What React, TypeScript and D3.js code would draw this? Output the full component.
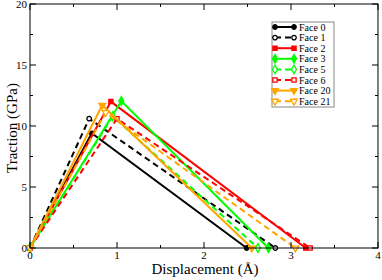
import * as d3 from "d3";

// traction-separation curves, one per face
const faceNames = ["Face 0", "Face 1", "Face 2", "Face 3", "Face 5", "Face 6", "Face 20", "Face 21"];
const peakDisp = [0.71, 0.68, 0.93, 1.05, 0.95, 1.0, 0.83, 0.87];
const peakTraction = [9.4, 10.6, 12.0, 12.05, 10.8, 10.6, 11.7, 11.1];
const finalDisp = [2.49, 2.82, 3.17, 2.74, 2.62, 3.22, 2.55, 3.05];

const faceColors = ["#000000", "#000000", "#ff0000", "#00ff00", "#00ff00", "#ff0000", "#ffa500", "#ffa500"];
const faceDashed = [false, true, false, false, true, true, false, true];
const faceSymbols = ["circle", "circle", "square", "diamond", "diamond", "square", "triangle", "triangle"];
const faceFilled = [true, false, true, true, false, false, true, false];

const xTicks = [0, 1, 2, 3, 4];
const yTicks = [0, 5, 10, 15, 20];

const W = 382;
const H = 280;
const m = { left: 30, right: 4, top: 4, bottom: 32 };
const FONT = "'Liberation Serif', 'DejaVu Serif', serif";

const x = d3.scaleLinear().domain([0, 4]).range([m.left, W - m.right]);
const y = d3.scaleLinear().domain([0, 20]).range([H - m.bottom, m.top]);

const symbolPath = (kind: string) => {
  if (kind === "circle") return d3.symbol(d3.symbolCircle, 16)()!;
  if (kind === "square") return d3.symbol(d3.symbolSquare, 18)()!;
  if (kind === "diamond") return d3.symbol(d3.symbolDiamond, 22)()!;
  return d3.symbol(d3.symbolTriangle, 20)()!;
};

function Marker({ cx, cy, i }: { cx: number; cy: number; i: number }) {
  const kind = faceSymbols[i];
  const rot = kind === "triangle" ? " rotate(180)" : "";
  return (
    <path
      d={symbolPath(kind)}
      transform={`translate(${cx},${cy})${rot}`}
      fill={faceFilled[i] ? faceColors[i] : "#fff"}
      stroke={faceColors[i]}
      strokeWidth={1.3}
    />
  );
}

export default function App() {
  const line = d3.line<[number, number]>().x((d) => x(d[0])).y((d) => y(d[1]));
  const series = faceNames.map((name, i) => ({
    name,
    i,
    pts: [
      [0, 0],
      [peakDisp[i], peakTraction[i]],
      [finalDisp[i], 0],
    ] as [number, number][],
  }));

  const x0 = m.left;
  const x1 = W - m.right;
  const y0 = H - m.bottom;
  const y1 = m.top;
  const xMinor = d3.range(0.5, 4, 1);
  const yMinor = d3.range(2.5, 20, 5);

  const lg = { x: 272, y: 22, w: 62, h: 85, row: 10.6 };

  return (
    <svg width={W} height={H} style={{ position: "absolute", left: 0, top: 0 }} fontFamily={FONT}>
      <rect width={W} height={H} fill="#fff" />

      {series.map((s) => (
        <g key={s.name}>
          <path
            d={line(s.pts)!}
            fill="none"
            stroke={faceColors[s.i]}
            strokeWidth={2}
            strokeDasharray={faceDashed[s.i] ? "6,4" : undefined}
          />
          {s.pts.map((p, k) => (
            <Marker key={k} cx={x(p[0])} cy={y(p[1])} i={s.i} />
          ))}
        </g>
      ))}

      {/* frame and inward ticks */}
      <g stroke="#000" strokeWidth={1}>
        <rect x={x0} y={y1} width={x1 - x0} height={y0 - y1} fill="none" />
        {xTicks.map((t) => (
          <g key={"xt" + t}>
            <line x1={x(t)} x2={x(t)} y1={y0} y2={y0 - 6} />
            <line x1={x(t)} x2={x(t)} y1={y1} y2={y1 + 6} />
          </g>
        ))}
        {xMinor.map((t) => (
          <g key={"xm" + t}>
            <line x1={x(t)} x2={x(t)} y1={y0} y2={y0 - 3} />
            <line x1={x(t)} x2={x(t)} y1={y1} y2={y1 + 3} />
          </g>
        ))}
        {yTicks.map((t) => (
          <g key={"yt" + t}>
            <line x1={x0} x2={x0 + 6} y1={y(t)} y2={y(t)} />
            <line x1={x1} x2={x1 - 6} y1={y(t)} y2={y(t)} />
          </g>
        ))}
        {yMinor.map((t) => (
          <g key={"ym" + t}>
            <line x1={x0} x2={x0 + 3} y1={y(t)} y2={y(t)} />
            <line x1={x1} x2={x1 - 3} y1={y(t)} y2={y(t)} />
          </g>
        ))}
      </g>

      {xTicks.map((t) => (
        <text key={"xl" + t} x={x(t)} y={y0 + 11} fontSize={11} textAnchor="middle">
          {t}
        </text>
      ))}
      {yTicks.map((t) => (
        <text key={"yl" + t} x={x0 - 3} y={y(t) + 4} fontSize={11} textAnchor="end">
          {t}
        </text>
      ))}

      <text x={205} y={274} fontSize={15} textAnchor="middle">
        Displacement (Å)
      </text>
      <text transform="translate(17,128) rotate(-90)" fontSize={15} textAnchor="middle">
        Traction (GPa)
      </text>

      {/* legend */}
      <rect x={lg.x} y={lg.y} width={lg.w} height={lg.h} fill="#fff" stroke="#888" strokeWidth={1} />
      {series.map((s) => {
        const ry = lg.y + 5 + s.i * lg.row;
        return (
          <g key={"lg" + s.name}>
            <line
              x1={lg.x + 3}
              x2={lg.x + 22}
              y1={ry}
              y2={ry}
              stroke={faceColors[s.i]}
              strokeWidth={2}
              strokeDasharray={faceDashed[s.i] ? "6,4" : undefined}
            />
            <Marker cx={lg.x + 3} cy={ry} i={s.i} />
            <Marker cx={lg.x + 22} cy={ry} i={s.i} />
            <text x={lg.x + 27} y={ry + 3.5} fontSize={10}>
              {s.name}
            </text>
          </g>
        );
      })}
    </svg>
  );
}
